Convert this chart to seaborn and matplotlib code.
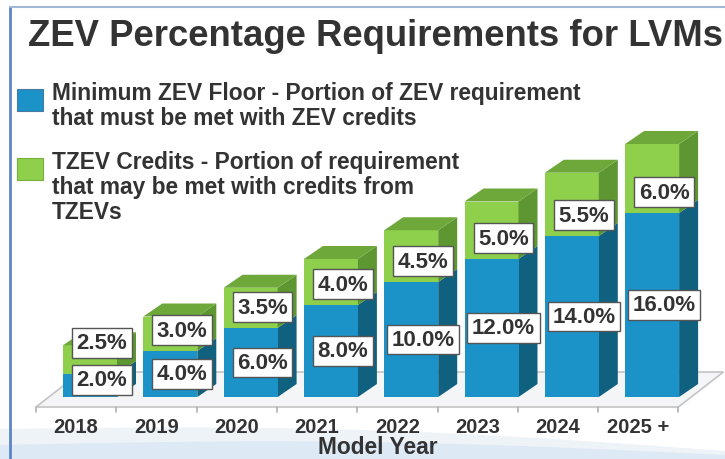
import matplotlib.pyplot as plt
import matplotlib.patches as mpatches
import seaborn as sns
import pandas as pd
import numpy as np

# Data
years = ['2018', '2019', '2020', '2021', '2022', '2023', '2024', '2025 +']
zev_floor = [2.0, 4.0, 6.0, 8.0, 10.0, 12.0, 14.0, 16.0]
tzev_credits = [2.5, 3.0, 3.5, 4.0, 4.5, 5.0, 5.5, 6.0]

legend_labels = [
    'Minimum ZEV Floor - Portion of ZEV requirement\nthat must be met with ZEV credits',
    'TZEV Credits - Portion of requirement\nthat may be met with credits from\nTZEVs',
]

# colours
BLUE, BLUE_SIDE = '#1b93c9', '#10607f'
GREEN, GREEN_SIDE, GREEN_TOP = '#8ecf4b', '#5e9631', '#6ea83a'
TEXT = '#333333'

sns.set_theme(style="white")
plt.rcParams['font.family'] = ['Liberation Sans', 'DejaVu Sans']

df = pd.DataFrame({'year': years, 'floor': zev_floor, 'tzev': tzev_credits})
df['total'] = df['floor'] + df['tzev']

fig = plt.figure(figsize=(7.25, 4.6), dpi=100)
fig.patch.set_facecolor('white')
ax = fig.add_axes([0, 0, 1, 1])
ax.set_facecolor('none')

# pixel scale: 80.3 px per category, 11.5 px per percent, baseline 62 px from bottom
PX_X, PX_Y = 80.3, 11.5
XLIM = (-90 / PX_X, -90 / PX_X + 725 / PX_X)
YLIM = (-62 / PX_Y, -62 / PX_Y + 460 / PX_Y)

# light background swoosh at the bottom
xs = np.linspace(XLIM[0], XLIM[1], 300)
u = (xs - XLIM[0]) / (XLIM[1] - XLIM[0])
ax.fill_between(xs, YLIM[0], YLIM[0] + (30 - 22 * u + 10 * np.sin(u * np.pi)) / PX_Y,
                color='#eef3f8', zorder=0, lw=0)
ax.fill_between(xs, YLIM[0], YLIM[0] + (14 - 10 * u + 8 * np.sin(u * np.pi)) / PX_Y,
                color='#dde9f5', zorder=0, lw=0)

# floor plane
fx0, fx1 = -54 / PX_X, -54 / PX_X + 8
fy = -10 / PX_Y
fdx, fdy = 45 / PX_X, 35 / PX_Y
ax.fill([fx0, fx1, fx1 + fdx, fx0 + fdx], [fy, fy, fy + fdy, fy + fdy],
        facecolor='#f4f5f7', edgecolor='#c4c4c4', lw=1.2, zorder=1)
for i in range(9):
    tx = fx0 + i
    ax.plot([tx, tx], [fy, fy - 5 / PX_Y], color='#b0b0b0', lw=1.2, zorder=1)

# front faces through seaborn (stacked: total first, floor on top)
W = 54 / PX_X
sns.barplot(data=df, x='year', y='total', color=GREEN, saturation=1, width=W,
            ax=ax, linewidth=0, zorder=3)
sns.barplot(data=df, x='year', y='floor', color=BLUE, saturation=1, width=W,
            ax=ax, linewidth=0, zorder=4)
ax.set_xlim(*XLIM)
ax.set_ylim(*YLIM)

# 3D side and top faces
dx, dy = 19 / PX_X, 13 / PX_Y
for i, row in df.iterrows():
    r = i + W / 2
    l = i - W / 2
    f, t = row['floor'], row['total']
    ax.fill([r, r + dx, r + dx, r], [0, dy, f + dy, f], color=BLUE_SIDE, lw=0, zorder=3)
    ax.fill([r, r + dx, r + dx, r], [f, f + dy, t + dy, t], color=GREEN_SIDE, lw=0, zorder=3)
    ax.fill([l, r, r + dx, l + dx], [t, t, t + dy, t + dy], color=GREEN_TOP, lw=0, zorder=3)

# value labels
box = dict(boxstyle='square,pad=0.2', fc='white', ec='#555555', lw=1.0)
for i, row in df.iterrows():
    f, g = row['floor'], row['tzev']
    yb = max(f / 2, 1.5)
    yg = max(f + 1.8, yb + 3.2)
    ax.text(i + 12 / PX_X, yb, f'{f:.1f}%', ha='center', va='center', fontsize=16,
            fontweight='bold', color=TEXT, bbox=box, zorder=6)
    ax.text(i + 12 / PX_X, yg, f'{g:.1f}%', ha='center', va='center', fontsize=16,
            fontweight='bold', color=TEXT, bbox=box, zorder=6)

# category labels and axis title
for i, y in enumerate(years):
    ax.text(i - 14 / PX_X, -30 / PX_Y, y, ha='center', va='center', fontsize=14.5,
            fontweight='bold', color=TEXT)
ax.text(378 / PX_X - 90 / PX_X, -50 / PX_Y, 'Model Year', ha='center', va='center',
        fontsize=16.4, fontweight='bold', color=TEXT)

ax.set_xlabel('')
ax.set_ylabel('')
ax.set_xticks([])
ax.set_yticks([])
for s in ax.spines.values():
    s.set_visible(False)

# frame lines
fig.add_artist(plt.Line2D([10 / 725, 10 / 725], [0, 1 - 8 / 460], color='#5b86c4', lw=2))
fig.add_artist(plt.Line2D([10 / 725, 1], [1 - 8 / 460, 1 - 8 / 460], color='#9fb8d8', lw=1.5))

# title
fig.text(28 / 725, 1 - 36 / 460, 'ZEV Percentage Requirements for LVMs', ha='left', va='center',
         fontsize=26.3, fontweight='bold', color=TEXT)

# legend
ytop = [90, 159]
for k, (lab, col) in enumerate(zip(legend_labels, [BLUE, GREEN])):
    y = ytop[k]
    fig.add_artist(mpatches.Rectangle((17 / 725, 1 - (y + 22) / 460), 26 / 725, 22 / 460,
                                      transform=fig.transFigure, facecolor=col,
                                      edgecolor='#4a7aa0' if k == 0 else '#7ab040', lw=0.8))
    fig.text(52 / 725, 1 - (y - 8) / 460, lab, ha='left', va='top', fontsize=16.4,
             fontweight='bold', color=TEXT, linespacing=1.12)

fig.savefig('out.png', dpi=100)
